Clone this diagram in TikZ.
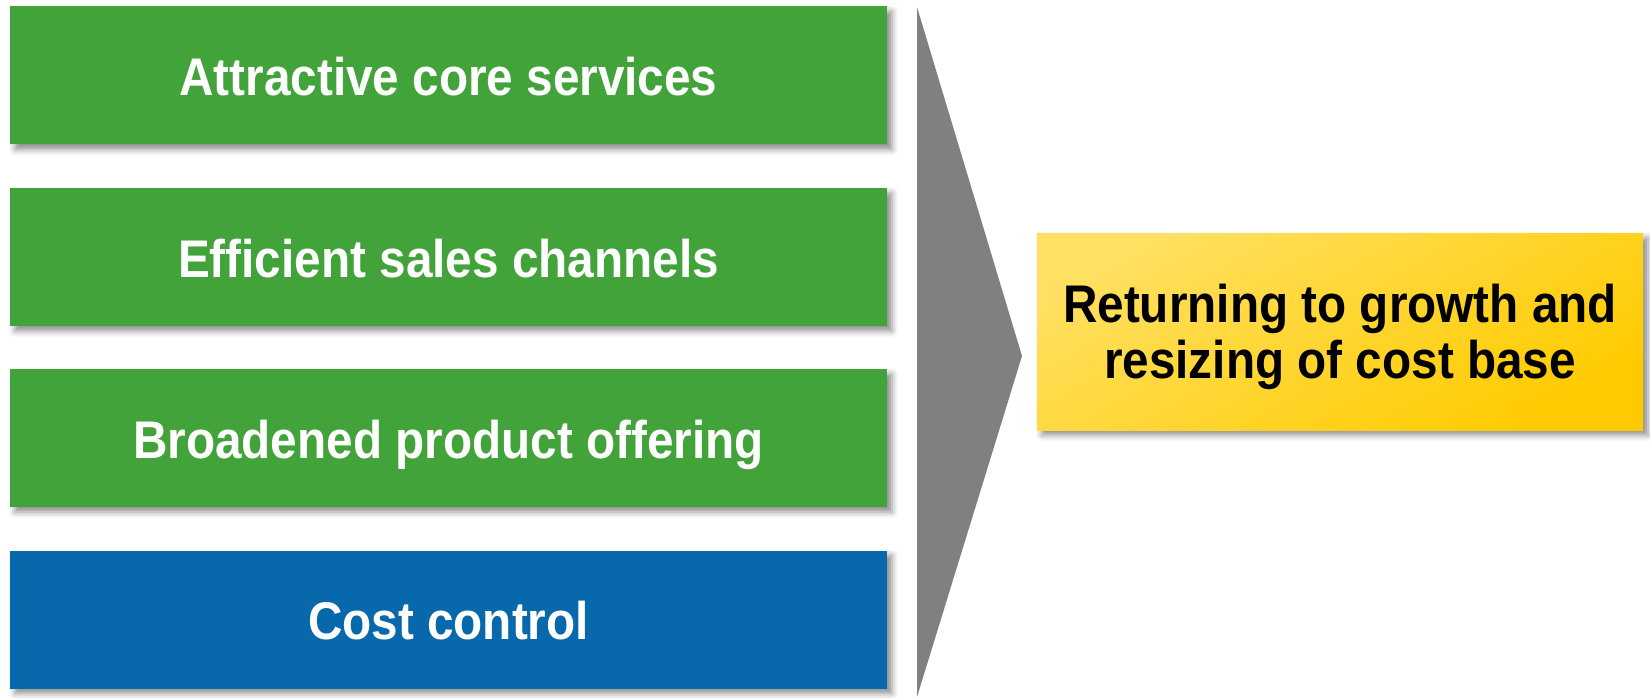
\documentclass[tikz,border=0pt]{standalone}
\usepackage{fontspec}
\setmainfont{Liberation Sans}[FakeStretch=0.9]
\usetikzlibrary{shadows.blur}
\definecolor{boxgreen}{HTML}{43A33B}
\definecolor{boxblue}{HTML}{0868AC}
\definecolor{arrowgray}{HTML}{808080}
\definecolor{yelA}{HTML}{FFE060}
\definecolor{yelB}{HTML}{FFCB00}
\tikzset{
  shad/.style={blur shadow={shadow xshift=5pt, shadow yshift=-5pt, shadow blur radius=6pt, shadow opacity=45}},
  pillar/.style={shad, rectangle, inner sep=0pt, minimum width=877pt, minimum height=138pt,
    text=white, font=\fontsize{53}{58}\selectfont\bfseries, text height=45pt, text depth=5pt},
  goalbox/.style={shad, rectangle, inner sep=0pt, minimum width=606pt, minimum height=197pt,
    top color=yelA, bottom color=yelB, shading angle=30, text=black,
    font=\fontsize{53}{56}\selectfont\bfseries}
}
\begin{document}
\begin{tikzpicture}[x=1pt,y=-1pt]
\useasboundingbox (0,0) rectangle (1650,698);
\node[pillar, fill=boxgreen] (p1) at (448.5,75.5) {Attractive core services};
\node[pillar, fill=boxgreen] (p2) at (448.5,257) {Efficient sales channels};
\node[pillar, fill=boxgreen] (p3) at (448.5,438) {Broadened product offering};
\node[pillar, fill=boxblue] (p4) at (448.5,619.5) {Cost control};
\coordinate (ctop) at (917,7);
\coordinate (ctip) at (1022,356);
\coordinate (cbot) at (917,697);
\fill[arrowgray] (ctop) -- (ctip) -- (cbot) -- cycle;
\node[goalbox] (goal) at (1340,331.5) {\raisebox{-7.5pt}[\height][\depth]{\begin{tabular}{@{}c@{}}Returning to growth and\\resizing of cost base\end{tabular}}};
\end{tikzpicture}
\end{document}
